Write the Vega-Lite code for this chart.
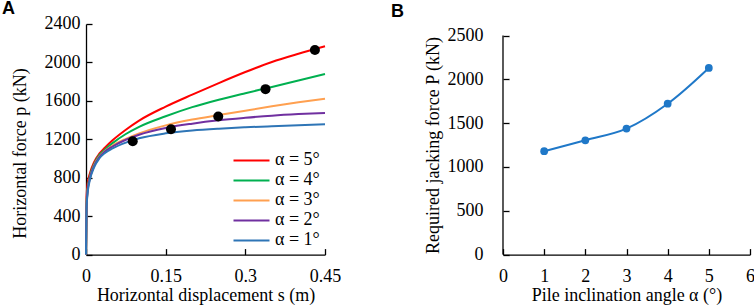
{
  "$schema": "https://vega.github.io/schema/vega-lite/v6.json",
  "padding": {"left": 2, "top": 0, "right": 0, "bottom": 0},
  "background": "white",
  "resolve": {"legend": {"color": "independent"}},
  "datasets": {
    "curves": [
      {"s": 0, "p": 0, "alpha": "α = 5°"}, {"s": 0.001, "p": 600, "alpha": "α = 5°"}, {"s": 0.003, "p": 740, "alpha": "α = 5°"}, {"s": 0.0075, "p": 850, "alpha": "α = 5°"}, {"s": 0.015, "p": 960, "alpha": "α = 5°"}, {"s": 0.025, "p": 1050, "alpha": "α = 5°"}, {"s": 0.035, "p": 1110, "alpha": "α = 5°"}, {"s": 0.05, "p": 1190, "alpha": "α = 5°"}, {"s": 0.075, "p": 1300, "alpha": "α = 5°"}, {"s": 0.1, "p": 1395, "alpha": "α = 5°"}, {"s": 0.15, "p": 1540, "alpha": "α = 5°"}, {"s": 0.2, "p": 1665, "alpha": "α = 5°"}, {"s": 0.25, "p": 1785, "alpha": "α = 5°"}, {"s": 0.3, "p": 1900, "alpha": "α = 5°"}, {"s": 0.35, "p": 2005, "alpha": "α = 5°"}, {"s": 0.4, "p": 2090, "alpha": "α = 5°"}, {"s": 0.45, "p": 2168, "alpha": "α = 5°"},
      {"s": 0, "p": 0, "alpha": "α = 4°"}, {"s": 0.001, "p": 520, "alpha": "α = 4°"}, {"s": 0.003, "p": 680, "alpha": "α = 4°"}, {"s": 0.0075, "p": 820, "alpha": "α = 4°"}, {"s": 0.015, "p": 940, "alpha": "α = 4°"}, {"s": 0.025, "p": 1035, "alpha": "α = 4°"}, {"s": 0.035, "p": 1090, "alpha": "α = 4°"}, {"s": 0.05, "p": 1160, "alpha": "α = 4°"}, {"s": 0.075, "p": 1255, "alpha": "α = 4°"}, {"s": 0.1, "p": 1330, "alpha": "α = 4°"}, {"s": 0.15, "p": 1440, "alpha": "α = 4°"}, {"s": 0.2, "p": 1535, "alpha": "α = 4°"}, {"s": 0.25, "p": 1612, "alpha": "α = 4°"}, {"s": 0.3, "p": 1680, "alpha": "α = 4°"}, {"s": 0.35, "p": 1745, "alpha": "α = 4°"}, {"s": 0.4, "p": 1812, "alpha": "α = 4°"}, {"s": 0.45, "p": 1880, "alpha": "α = 4°"},
      {"s": 0, "p": 0, "alpha": "α = 3°"}, {"s": 0.001, "p": 500, "alpha": "α = 3°"}, {"s": 0.003, "p": 660, "alpha": "α = 3°"}, {"s": 0.0075, "p": 800, "alpha": "α = 3°"}, {"s": 0.015, "p": 925, "alpha": "α = 3°"}, {"s": 0.025, "p": 1020, "alpha": "α = 3°"}, {"s": 0.035, "p": 1075, "alpha": "α = 3°"}, {"s": 0.05, "p": 1135, "alpha": "α = 3°"}, {"s": 0.075, "p": 1205, "alpha": "α = 3°"}, {"s": 0.1, "p": 1262, "alpha": "α = 3°"}, {"s": 0.15, "p": 1345, "alpha": "α = 3°"}, {"s": 0.2, "p": 1405, "alpha": "α = 3°"}, {"s": 0.25, "p": 1452, "alpha": "α = 3°"}, {"s": 0.3, "p": 1498, "alpha": "α = 3°"}, {"s": 0.35, "p": 1543, "alpha": "α = 3°"}, {"s": 0.4, "p": 1585, "alpha": "α = 3°"}, {"s": 0.45, "p": 1623, "alpha": "α = 3°"},
      {"s": 0, "p": 0, "alpha": "α = 2°"}, {"s": 0.001, "p": 500, "alpha": "α = 2°"}, {"s": 0.003, "p": 660, "alpha": "α = 2°"}, {"s": 0.0075, "p": 800, "alpha": "α = 2°"}, {"s": 0.015, "p": 920, "alpha": "α = 2°"}, {"s": 0.025, "p": 1015, "alpha": "α = 2°"}, {"s": 0.035, "p": 1070, "alpha": "α = 2°"}, {"s": 0.05, "p": 1125, "alpha": "α = 2°"}, {"s": 0.075, "p": 1195, "alpha": "α = 2°"}, {"s": 0.1, "p": 1248, "alpha": "α = 2°"}, {"s": 0.15, "p": 1318, "alpha": "α = 2°"}, {"s": 0.2, "p": 1363, "alpha": "α = 2°"}, {"s": 0.25, "p": 1398, "alpha": "α = 2°"}, {"s": 0.3, "p": 1424, "alpha": "α = 2°"}, {"s": 0.35, "p": 1446, "alpha": "α = 2°"}, {"s": 0.4, "p": 1462, "alpha": "α = 2°"}, {"s": 0.45, "p": 1474, "alpha": "α = 2°"},
      {"s": 0, "p": 0, "alpha": "α = 1°"}, {"s": 0.001, "p": 480, "alpha": "α = 1°"}, {"s": 0.003, "p": 640, "alpha": "α = 1°"}, {"s": 0.0075, "p": 780, "alpha": "α = 1°"}, {"s": 0.015, "p": 905, "alpha": "α = 1°"}, {"s": 0.025, "p": 1000, "alpha": "α = 1°"}, {"s": 0.035, "p": 1055, "alpha": "α = 1°"}, {"s": 0.05, "p": 1105, "alpha": "α = 1°"}, {"s": 0.075, "p": 1165, "alpha": "α = 1°"}, {"s": 0.1, "p": 1210, "alpha": "α = 1°"}, {"s": 0.15, "p": 1262, "alpha": "α = 1°"}, {"s": 0.2, "p": 1292, "alpha": "α = 1°"}, {"s": 0.25, "p": 1311, "alpha": "α = 1°"}, {"s": 0.3, "p": 1325, "alpha": "α = 1°"}, {"s": 0.35, "p": 1336, "alpha": "α = 1°"}, {"s": 0.4, "p": 1346, "alpha": "α = 1°"}, {"s": 0.45, "p": 1356, "alpha": "α = 1°"}
    ],
    "dots": [
      {"s": 0.088, "p": 1180}, {"s": 0.16, "p": 1305}, {"s": 0.249, "p": 1438}, {"s": 0.338, "p": 1722}, {"s": 0.431, "p": 2130}
    ],
    "jacking": [
      {"angle": 1, "P": 1180}, {"angle": 2, "P": 1305}, {"angle": 3, "P": 1438}, {"angle": 4, "P": 1722}, {"angle": 5, "P": 2130}
    ],
    "yaxisB": [
      {"angle": 0, "P": 0, "P2": 2500}
    ]
  },
  "config": {
    "font": "Liberation Serif",
    "view": {"stroke": null},
    "axis": {
      "domainColor": "#000000", "domainWidth": 1.3, "tickColor": "#000000", "tickWidth": 1.3, "tickSize": -6,
      "grid": false, "labelFont": "Liberation Serif", "labelFontSize": 18, "labelColor": "#000000",
      "titleFont": "Liberation Serif", "titleFontSize": 18, "titleFontWeight": "normal", "titleColor": "#000000",
      "labelFlush": false, "labelOverlap": false
    },
    "title": {"font": "Liberation Sans", "fontSize": 18, "fontWeight": "bold", "anchor": "start", "frame": "group", "color": "#000000"}
  },
  "spacing": 50,
  "hconcat": [
    {
      "width": 239, "height": 230.6,
      "title": {"text": "A", "dx": -84, "offset": -3},
      "encoding": {
        "x": {"field": "s", "type": "quantitative", "scale": {"domain": [0, 0.45], "nice": false},
          "axis": {"values": [0, 0.15, 0.3, 0.45], "format": ".2~f", "title": "Horizontal displacement s (m)", "labelPadding": 19, "titleY": 32}},
        "y": {"field": "p", "type": "quantitative", "scale": {"domain": [0, 2400], "nice": false},
          "axis": {"values": [0, 400, 800, 1200, 1600, 2000, 2400], "format": "d", "title": "Horizontal force p (kN)", "labelPadding": 12, "titleX": -57, "titleY": 129}}
      },
      "layer": [
        {
          "data": {"name": "curves"},
          "mark": {"type": "line", "interpolate": "monotone", "strokeWidth": 2},
          "encoding": {
            "color": {"field": "alpha", "type": "nominal",
              "scale": {"domain": ["α = 5°", "α = 4°", "α = 3°", "α = 2°", "α = 1°"], "range": ["#FF0000", "#00B050", "#FFA050", "#7030A0", "#2E75B6"]},
              "legend": {"title": null, "orient": "bottom-right", "offset": 5, "padding": 0, "symbolType": "M-2,0H2", "symbolSize": 324, "symbolStrokeWidth": 2.2, "labelFont": "Liberation Serif", "labelFontSize": 18, "labelColor": "#000000", "rowPadding": 0, "labelOffset": 13}}
          }
        },
        {
          "data": {"name": "dots"},
          "mark": {"type": "circle", "size": 100, "color": "#000000", "opacity": 1}
        }
      ]
    },
    {
      "width": 247, "height": 230.6,
      "title": {"text": "B", "dx": -112, "offset": 3},
      "encoding": {
        "x": {"field": "angle", "type": "quantitative", "scale": {"domain": [0, 6], "nice": false},
          "axis": {"values": [0, 1, 2, 3, 4, 5, 6], "format": "d", "title": "Pile inclination angle α (°)", "labelPadding": 19, "titleY": 32}},
        "y": {"field": "P", "type": "quantitative", "scale": {"domain": [0, 2632], "nice": false},
          "axis": {"values": [0, 500, 1000, 1500, 2000, 2500], "format": "d", "domain": false, "title": "Required jacking force P (kN)", "labelPadding": 26, "titleX": -60, "titleY": 121}}
      },
      "layer": [
        {
          "data": {"name": "yaxisB"},
          "mark": {"type": "rule", "color": "#000000", "strokeWidth": 1.3},
          "encoding": {"y2": {"field": "P2"}}
        },
        {
          "data": {"name": "jacking"},
          "mark": {"type": "line", "interpolate": "catmull-rom", "strokeWidth": 2, "color": "#1F78C8"}
        },
        {
          "data": {"name": "jacking"},
          "mark": {"type": "circle", "size": 60, "color": "#1F78C8", "opacity": 1}
        }
      ]
    }
  ]
}
